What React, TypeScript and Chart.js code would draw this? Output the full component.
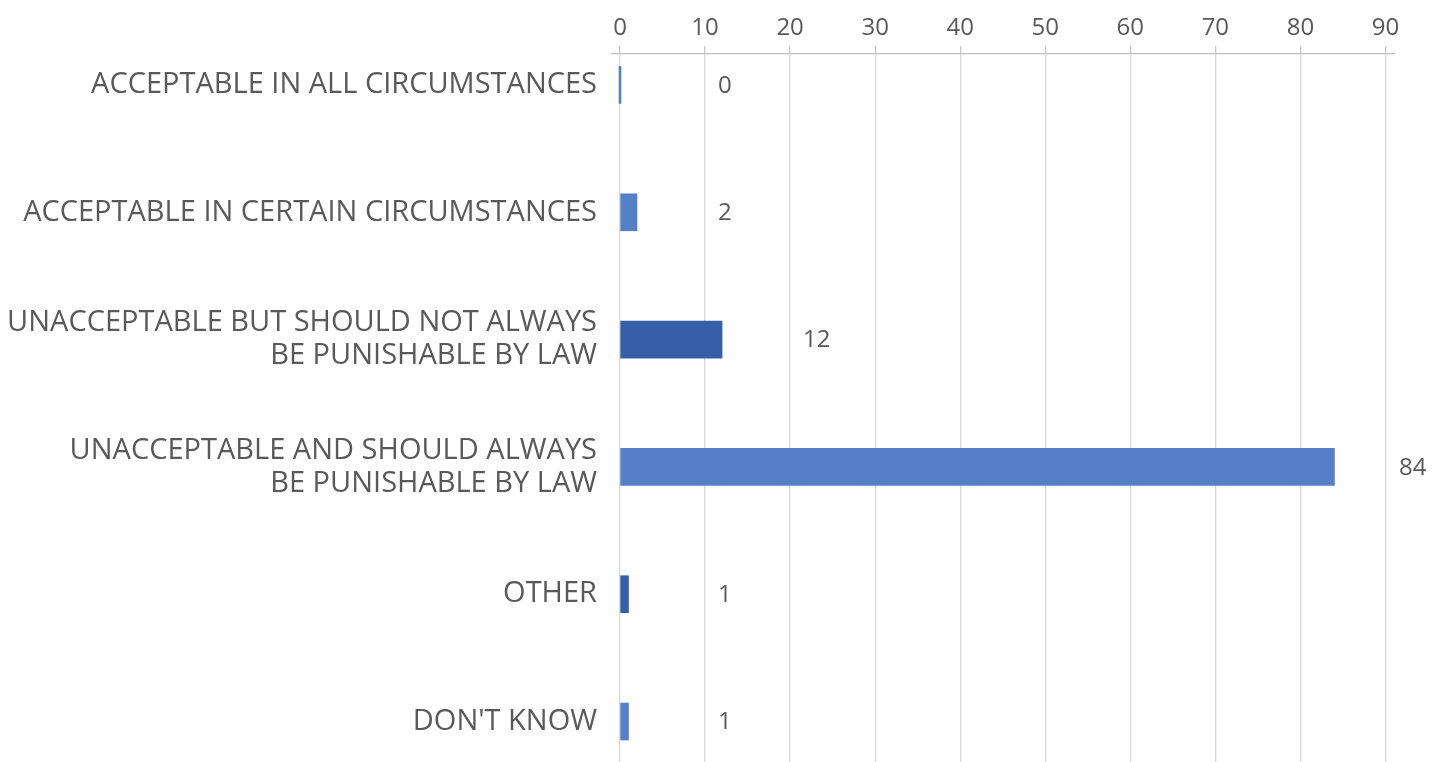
import React, { useEffect, useRef } from "react";
import { Chart, registerables } from "chart.js";

Chart.register(...registerables);

const categories: (string | string[])[] = [
  "ACCEPTABLE IN ALL CIRCUMSTANCES",
  "ACCEPTABLE IN CERTAIN CIRCUMSTANCES",
  ["UNACCEPTABLE BUT SHOULD NOT ALWAYS", "BE PUNISHABLE BY LAW"],
  ["UNACCEPTABLE AND SHOULD ALWAYS", "BE PUNISHABLE BY LAW"],
  "OTHER",
  "DON'T KNOW",
];
const values = [0, 2, 12, 84, 1, 1];
const xTickValues = [0, 10, 20, 30, 40, 50, 60, 70, 80, 90];

const LIGHT = "#5580C7";
const DARK = "#3560A8";
const barColors = [LIGHT, LIGHT, DARK, LIGHT, DARK, LIGHT];
const TEXT = "#595959";
const FONT = "'Open Sans', 'Noto Sans', sans-serif";

const valueLabels = {
  id: "valueLabels",
  afterDatasetsDraw(chart: any) {
    const ctx = chart.ctx;
    const meta = chart.getDatasetMeta(0);
    const xs = chart.scales.x;
    const x0 = xs.getPixelForValue(0);
    ctx.save();
    ctx.font = `24px ${FONT}`;
    ctx.fillStyle = TEXT;
    ctx.textAlign = "left";
    ctx.textBaseline = "middle";
    meta.data.forEach((bar: any, i: number) => {
      const end = xs.getPixelForValue(values[i]);
      let lx = Math.max(end + 81, x0 + 98);
      lx = Math.min(lx, chart.width - 33);
      ctx.fillText(String(values[i]), lx, bar.y + 1);
    });
    ctx.restore();
  },
};

export default function App() {
  const ref = useRef<HTMLCanvasElement | null>(null);
  useEffect(() => {
    document.body.style.margin = "0";
    if (!ref.current) return;
    const chart = new Chart(ref.current, {
      type: "bar",
      data: {
        datasets: [
          {
            data: values.map((v, i) => ({ x: v, y: i })),
            backgroundColor: barColors,
            barThickness: 37,
            minBarLength: 2,
            borderWidth: 0,
          },
        ],
      },
      options: {
        indexAxis: "y",
        animation: false,
        responsive: true,
        maintainAspectRatio: false,
        layout: { padding: { left: 0, right: 37, top: 0, bottom: 0 } },
        plugins: {
          legend: { display: false },
          tooltip: { enabled: false },
        },
        scales: {
          x: {
            type: "linear",
            position: "top",
            min: -0.94,
            max: 91.12,
            afterBuildTicks: (scale: any) => {
              scale.ticks = xTickValues.map((v) => ({ value: v }));
            },
            afterFit: (scale: any) => {
              scale.height = 54;
            },
            grid: {
              color: "#d9d9d9",
              lineWidth: 1.3,
              drawTicks: true,
              tickLength: 8,
              tickColor: "#c8c8c8",
            },
            border: { display: true, color: "#bfbfbf", width: 1.3 },
            ticks: {
              color: TEXT,
              font: { family: FONT, size: 24 },
              padding: 3,
              maxRotation: 0,
              autoSkip: false,
            },
          },
          y: {
            type: "linear",
            reverse: true,
            offset: false,
            min: -0.2435,
            max: 5.318,
            afterBuildTicks: (scale: any) => {
              scale.ticks = categories.map((_, i) => ({ value: i }));
            },
            afterFit: (scale: any) => {
              scale.width = 612;
              scale.paddingTop = 0;
              scale.paddingBottom = 0;
            },
            grid: { display: false, drawTicks: false, offset: false },
            border: { display: false },
            ticks: {
              color: TEXT,
              font: { family: FONT, size: 29, lineHeight: 1.14 },
              padding: 15,
              autoSkip: false,
              callback: (v: any) => categories[v as number] as any,
            },
          },
        },
      },
      plugins: [valueLabels],
    });
    return () => chart.destroy();
  }, []);
  return (
    <div style={{ position: "fixed", left: 0, top: 0, width: 1432, height: 762, background: "#fff" }}>
      <canvas ref={ref} />
    </div>
  );
}
